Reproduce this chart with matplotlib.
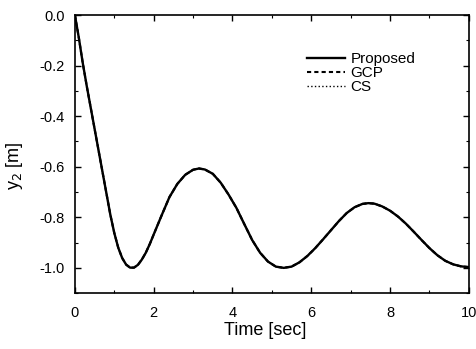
import matplotlib
matplotlib.use('Agg')
import matplotlib.pyplot as plt
from matplotlib.ticker import MultipleLocator, FormatStrFormatter

# time samples [sec] and response y2 [m]
time = [0.0, 0.1, 0.2, 0.3, 0.4, 0.5, 0.6, 0.7, 0.8, 0.9, 1.0, 1.1, 1.2,
        1.3, 1.4, 1.5, 1.6, 1.7, 1.8, 1.9, 2.0, 2.2, 2.4, 2.6, 2.8, 3.0,
        3.15, 3.3, 3.5, 3.7, 3.9, 4.1, 4.3, 4.5, 4.7, 4.9, 5.1, 5.3, 5.5,
        5.7, 5.9, 6.1, 6.3, 6.5, 6.7, 6.9, 7.1, 7.3, 7.45, 7.6, 7.8, 8.0,
        8.2, 8.4, 8.6, 8.8, 9.0, 9.2, 9.4, 9.6, 9.8, 10.0]
proposed = [0.0, -0.09, -0.19, -0.28, -0.365, -0.45, -0.535, -0.62, -0.705,
            -0.79, -0.862, -0.92, -0.961, -0.987, -0.999, -0.999, -0.988,
            -0.967, -0.94, -0.906, -0.868, -0.793, -0.72, -0.668, -0.632,
            -0.612, -0.607, -0.611, -0.628, -0.663, -0.71, -0.763, -0.827,
            -0.89, -0.94, -0.975, -0.995, -1.0, -0.995, -0.978, -0.953,
            -0.922, -0.887, -0.851, -0.815, -0.783, -0.760, -0.747, -0.744,
            -0.746, -0.757, -0.774, -0.797, -0.825, -0.857, -0.89, -0.922,
            -0.950, -0.972, -0.986, -0.994, -0.997]
# the other two controllers overlap the proposed response
gcp = proposed
cs = proposed

plt.rcParams['font.family'] = ['Liberation Sans', 'DejaVu Sans']

fig = plt.figure(figsize=(4.77, 3.49), dpi=100)
ax = fig.add_axes([0.157, 0.160, 0.826, 0.797])

ax.plot(time, cs, color='black', lw=1.0, ls=':', label='CS')
ax.plot(time, gcp, color='black', lw=1.5, ls=(0, (2, 1.5)), label='GCP')
ax.plot(time, proposed, color='black', lw=1.7, label='Proposed')

ax.set_xlim(0, 10)
ax.set_ylim(-1.1, 0.0)
ax.xaxis.set_major_locator(MultipleLocator(2))
ax.xaxis.set_minor_locator(MultipleLocator(1))
ax.yaxis.set_major_locator(MultipleLocator(0.2))
ax.yaxis.set_minor_locator(MultipleLocator(0.1))
ax.yaxis.set_major_formatter(FormatStrFormatter('%.1f'))
ax.tick_params(which='both', direction='in', top=True, right=True, labelsize=10.5)
ax.tick_params(which='major', length=4, width=1)
ax.tick_params(which='minor', length=2.5, width=0.8)
ax.tick_params(axis='x', which='major', pad=9)
ax.tick_params(axis='y', which='major', pad=7.5)
for s in ax.spines.values():
    s.set_linewidth(1.2)

ax.set_xlabel('Time [sec]', fontsize=13)
ax.set_ylabel('y$_2$ [m]', fontsize=13)
ax.xaxis.set_label_coords(0.482, -0.104)
ax.yaxis.set_label_coords(-0.127, 0.457)

h, l = ax.get_legend_handles_labels()
ax.legend(h[::-1], l[::-1], frameon=False, fontsize=11, loc='upper left',
          bbox_to_anchor=(0.589, 0.867), handlelength=2.5, handletextpad=0.35,
          labelspacing=0.0, borderaxespad=0, borderpad=0)

plt.savefig('out.png', dpi=100)
